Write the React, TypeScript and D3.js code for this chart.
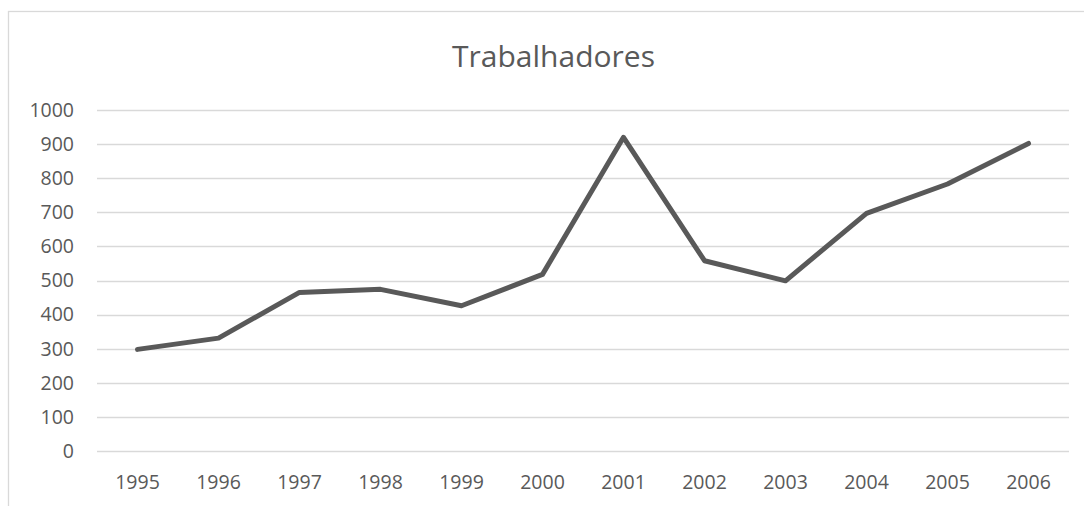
import React from "react";
import * as d3 from "d3";

const years = ["1995","1996","1997","1998","1999","2000","2001","2002","2003","2004","2005","2006"];
const workers = [298, 331, 465, 474, 426, 518, 920, 558, 499, 697, 783, 902];
const yTicks = [0,100,200,300,400,500,600,700,800,900,1000];
const title = "Trabalhadores";

const W = 1084, H = 506;
const left = 97, right = 1069, top = 110, bottom = 451;

export default function App() {
  const x = d3.scaleBand<string>().domain(years).range([left, right]);
  const y = d3.scaleLinear().domain([0, 1000]).range([bottom, top]);
  const line = d3.line<number>()
    .x((_, i) => (x(years[i]) as number) + x.bandwidth() / 2)
    .y((d) => y(d));
  const font = "'Open Sans', sans-serif";
  return (
    <svg width={W} height={H} style={{ position: "absolute", left: 0, top: 0, background: "#fff" }}>
      <rect x={8.5} y={11.5} width={1200} height={700} fill="#fff" stroke="#d9d9d9" strokeWidth={1.3} />
      <text x={553.5} y={67} textAnchor="middle" fontFamily={font} fontSize={30} fill="#595959">{title}</text>
      {yTicks.map((t) => (
        <g key={t}>
          <line x1={left} x2={right} y1={Math.round(y(t)) + 0.5} y2={Math.round(y(t)) + 0.5} stroke="#d9d9d9" strokeWidth={1.3} />
          <text x={74} y={y(t)} dy="0.35em" textAnchor="end" fontFamily={font} fontSize={19.5} fill="#595959">{t}</text>
        </g>
      ))}
      {years.map((yr) => (
        <text key={yr} x={(x(yr) as number) + x.bandwidth() / 2} y={482} dy="0.35em" textAnchor="middle" fontFamily={font} fontSize={19.5} fill="#595959">{yr}</text>
      ))}
      <path d={line(workers) || ""} fill="none" stroke="#595959" strokeWidth={5} strokeLinejoin="round" strokeLinecap="round" />
    </svg>
  );
}
